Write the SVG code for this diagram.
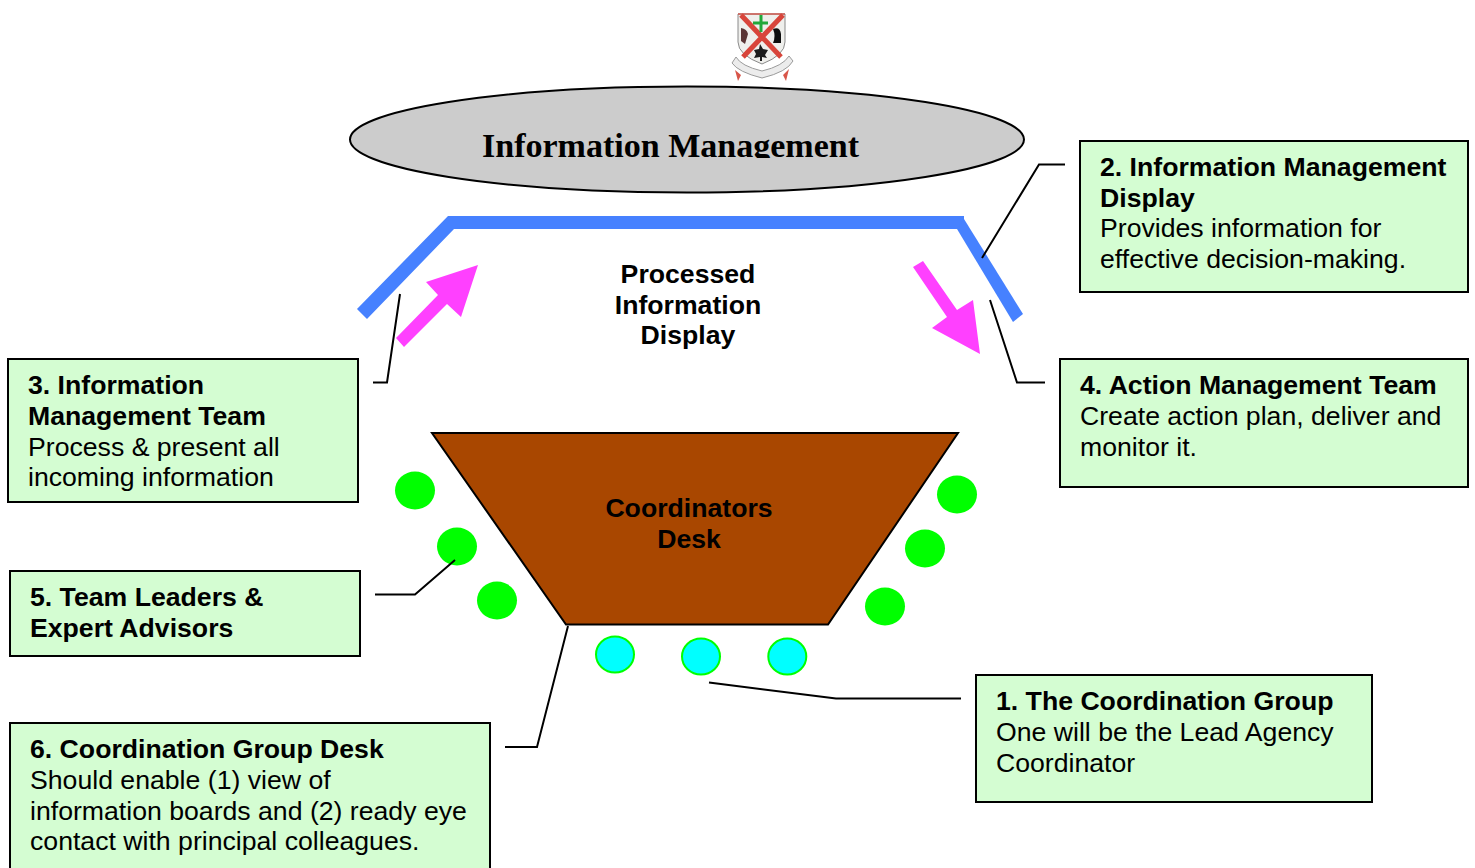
<svg xmlns="http://www.w3.org/2000/svg" width="1475" height="868" viewBox="0 0 1475 868">
<style>
text{font-family:"Liberation Sans",Arial,sans-serif;font-size:26.65px;fill:#000}
.b{font-weight:bold}
.m{text-anchor:middle}
.box{fill:#d4fdd2;stroke:#000;stroke-width:2}
.lead{fill:none;stroke:#000;stroke-width:2}
.gn{fill:#00ff00}
.cy{fill:#00ffff;stroke:#00ff00;stroke-width:2}
.blue{fill:#4681ff}
.pink{fill:#ff40ff}
</style>
<defs>
<clipPath id="elClip"><rect x="340" y="80" width="700" height="78"/></clipPath>
<filter id="soft" x="-10%" y="-10%" width="120%" height="120%"><feGaussianBlur stdDeviation="0.45"/></filter>
</defs>
<g id="crest" filter="url(#soft)">
<path d="M738 14H785V42Q785 55 762 64Q738 55 738 42Z" fill="#efefec" stroke="#8a8a8a"/>
<path d="M738 14H785" stroke="#d05a50" stroke-width="1.500"/>
<path d="M741 15L781 57M783 15L743 57" stroke="#d8453a" stroke-width="5" fill="none"/>
<path d="M761 15V32M753 23H768" stroke="#22a83a" stroke-width="3" fill="none"/>
<path d="M741 28q6 1 7 6l-3 10-4-3z" fill="#5a3535"/>
<path d="M773 29q7-3 8 5v9h-8q3-7 0-14z" fill="#111"/>
<path d="M760 44l3 5 5 1-3 5 2 3-5-1v4h-2v-4l-6 1 2-4-2-4 5-1z" fill="#1d1d1d"/>
<path d="M732 63Q738 72 762 78Q787 72 793 61L789 56Q783 66 762 71Q741 66 736 57Z" fill="#ececec" stroke="#9a9a9a"/>
<path d="M735 70l3 11 3-6zM789 69l-3 12-3-6z" fill="#d8564a"/>
</g>
<g id="information-management">
<ellipse cx="687" cy="139.500" rx="337" ry="53" fill="#cccccc" stroke="#000" stroke-width="2"/>
<text x="482" y="156.500" textLength="377" lengthAdjust="spacingAndGlyphs" clip-path="url(#elClip)" style="font-family:'Liberation Serif',serif;font-weight:bold;font-size:33px">Information Management</text>
</g>
<g id="display">
<path class="blue" d="M357 309L448 216H964V229H454L367 319Z"/>
<path class="blue" d="M964 219L1023 314L1013 322L957 229Z"/>
<text class="b m" x="688" y="283">Processed</text>
<text class="b m" x="688" y="314">Information</text>
<text class="b m" x="688" y="344">Display</text>
</g>
<g id="flow-arrows">
<path class="pink" d="M396 338L438 295L426 282L478 265L461 317L447 304L404 347Z"/>
<path class="pink" d="M913 267L923 261L957 310L973 300L980 354L932 328L947 317Z"/>
</g>
<g id="desk">
<path d="M432 433H958L828 624.500H566Z" fill="#a94700" stroke="#000" stroke-width="2"/>
<text class="b m" x="689" y="517">Coordinators</text>
<text class="b m" x="689" y="548">Desk</text>
</g>
<g id="team-leaders-seats">
<ellipse class="gn" cx="415" cy="490.500" rx="20" ry="19"/><ellipse class="gn" cx="457" cy="546.500" rx="20" ry="19"/><ellipse class="gn" cx="497" cy="600.500" rx="20" ry="19"/>
<ellipse class="gn" cx="957" cy="494.500" rx="20" ry="19"/><ellipse class="gn" cx="925" cy="548.500" rx="20" ry="19"/><ellipse class="gn" cx="885" cy="606.500" rx="20" ry="19"/>
</g>
<g id="coordination-seats">
<ellipse class="cy" cx="615" cy="654.500" rx="19" ry="18"/><ellipse class="cy" cx="701" cy="656.500" rx="19" ry="18"/><ellipse class="cy" cx="787.300" cy="656.500" rx="19" ry="18"/>
</g>
<g id="connectors">
<path class="lead" d="M1065 164.500H1039L982 258"/>
<path class="lead" d="M1045 382.500H1017L990 300"/>
<path class="lead" d="M373 382.500H387L400 294"/>
<path class="lead" d="M375 594.500H415L455 560"/>
<path class="lead" d="M505 747H537L568 626"/>
<path class="lead" d="M961 698.500H836L709 682.500"/>
</g>
<g id="box-2">
<rect class="box" x="1080" y="141" width="388" height="151"/>
<text class="b" x="1100" y="176">2. Information Management</text>
<text class="b" x="1100" y="207">Display</text>
<text x="1100" y="237">Provides information for</text>
<text x="1100" y="268">effective decision-making.</text>
</g>
<g id="box-3">
<rect class="box" x="8" y="359" width="350" height="143"/>
<text class="b" x="28" y="394">3. Information</text>
<text class="b" x="28" y="425">Management Team</text>
<text x="28" y="456">Process &amp; present all</text>
<text x="28" y="486">incoming information</text>
</g>
<g id="box-4">
<rect class="box" x="1060" y="359" width="408" height="128"/>
<text class="b" x="1080" y="394">4. Action Management Team</text>
<text x="1080" y="425">Create action plan, deliver and</text>
<text x="1080" y="456">monitor it.</text>
</g>
<g id="box-5">
<rect class="box" x="10" y="571" width="350" height="85"/>
<text class="b" x="30" y="606">5. Team Leaders &amp;</text>
<text class="b" x="30" y="637">Expert Advisors</text>
</g>
<g id="box-6">
<path class="box" d="M10 868V723H490V868"/>
<text class="b" x="30" y="758">6. Coordination Group Desk</text>
<text x="30" y="789">Should enable (1) view of</text>
<text x="30" y="820">information boards and (2) ready eye</text>
<text x="30" y="850">contact with principal colleagues.</text>
</g>
<g id="box-1">
<rect class="box" x="976" y="675" width="396" height="127"/>
<text class="b" x="996" y="710">1. The Coordination Group</text>
<text x="996" y="741">One will be the Lead Agency</text>
<text x="996" y="772">Coordinator</text>
</g>
</svg>
